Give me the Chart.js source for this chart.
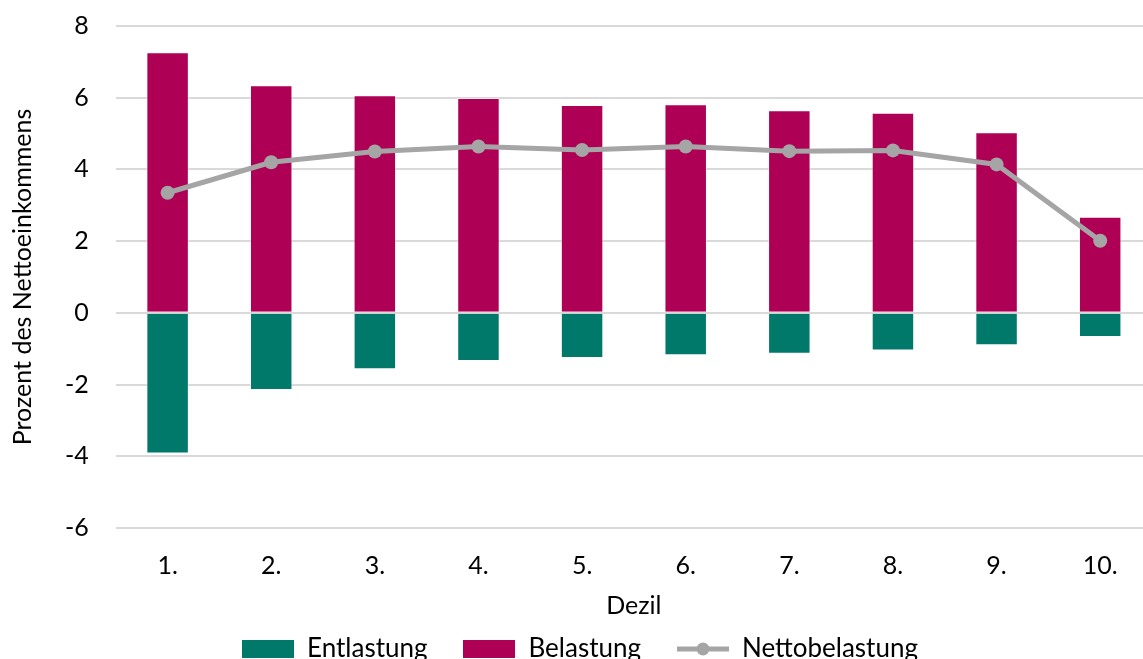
<!DOCTYPE html>
<html>
<head>
<meta charset="utf-8">
<script src="https://cdn.jsdelivr.net/npm/chart.js@4/dist/chart.umd.min.js"></script>
<style>
    html, body { margin: 0; padding: 0; background: #fff; overflow: hidden; }
    #wrap { position: absolute; left: 0; top: -16px; width: 1162px; height: 688px; }
</style>
</head>
<body>
<div id="wrap"><canvas id="chart"></canvas></div>
<script>
(function () {

    "use strict";

    // Dezile (x-Achse)
    var dezile = ['1.', '2.', '3.', '4.', '5.', '6.', '7.', '8.', '9.', '10.'];

    // Werte in Prozent des Nettoeinkommens
    var entlastung = [-3.92, -2.15, -1.57, -1.34, -1.26, -1.18, -1.14, -1.05, -0.90, -0.67];
    var belastung = [7.27, 6.35, 6.07, 5.99, 5.80, 5.82, 5.65, 5.58, 5.04, 2.68];
    var nettobelastung = [3.35, 4.20, 4.50, 4.64, 4.54, 4.64, 4.51, 4.53, 4.14, 2.01];

    var GRUEN = '#00786a';
    var ROT = '#ae0055';
    var GRAU = '#a5a5a5';
    var FONT = 'Lato';

    /**
     * Kleines Bild fuer die Legende (Rechteck oder Linie mit Punkt)
     */
    function legendIcon(color, isLine) {
        var c = document.createElement('canvas');
        c.width = 52;
        c.height = 18;
        var ctx = c.getContext('2d');
        if (isLine) {
            ctx.strokeStyle = color;
            ctx.lineWidth = 5;
            ctx.beginPath();
            ctx.moveTo(0, 9);
            ctx.lineTo(52, 9);
            ctx.stroke();
            ctx.fillStyle = color;
            ctx.beginPath();
            ctx.arc(26, 9, 6.5, 0, Math.PI * 2);
            ctx.fill();
        } else {
            ctx.fillStyle = color;
            ctx.fillRect(0, 0, 52, 18);
        }
        return c;
    }

    var icons = [legendIcon(GRUEN, false), legendIcon(ROT, false), legendIcon(GRAU, true)];

    new Chart(document.getElementById('chart'), {
        type: 'bar',
        data: {
            labels: dezile,
            datasets: [{
                label: 'Entlastung',
                data: entlastung,
                backgroundColor: GRUEN,
                borderColor: 'rgba(255,255,255,0.45)',
                borderWidth: 1,
                borderSkipped: 'start',
                order: 2
            }, {
                label: 'Belastung',
                data: belastung,
                backgroundColor: ROT,
                borderColor: 'rgba(255,255,255,0.45)',
                borderWidth: 1,
                borderSkipped: 'start',
                order: 2
            }, {
                type: 'line',
                label: 'Nettobelastung',
                data: nettobelastung,
                borderColor: GRAU,
                backgroundColor: GRAU,
                borderWidth: 5,
                pointRadius: 7,
                pointHoverRadius: 7,
                pointBackgroundColor: GRAU,
                pointBorderWidth: 0,
                tension: 0,
                order: 1
            }]
        },
        options: {
            responsive: true,
            maintainAspectRatio: false,
            animation: false,
            layout: { padding: { left: 8, right: 10, top: 0, bottom: 0 } },
            datasets: {
                bar: { categoryPercentage: 1, barPercentage: 0.41 }
            },
            scales: {
                x: {
                    stacked: true,
                    grid: { display: false },
                    border: { display: false },
                    ticks: { color: '#000', font: { family: FONT, size: 25 }, padding: 15 },
                    title: { display: true, text: 'Dezil', color: '#000', font: { family: FONT, size: 25 }, padding: { top: -5, bottom: -21 } }
                },
                y: {
                    stacked: true,
                    min: -6,
                    max: 8,
                    ticks: { stepSize: 2, color: '#000', font: { family: FONT, size: 25 }, padding: 27 },
                    grid: { color: '#d9d9d9', lineWidth: 2, drawTicks: false },
                    border: { display: false },
                    title: { display: true, text: 'Prozent des Nettoeinkommens', color: '#000', font: { family: FONT, size: 25 }, padding: { top: 0, bottom: 0 } }
                }
            },
            plugins: {
                tooltip: { enabled: false },
                legend: {
                    position: 'bottom',
                    labels: {
                        usePointStyle: true,
                        pointStyleWidth: 52,
                        boxHeight: 18,
                        padding: 36,
                        color: '#000',
                        font: { family: FONT, size: 26 },
                        generateLabels: function (chart) {
                            return chart.data.datasets.map(function (ds, i) {
                                return {
                                    text: ds.label,
                                    pointStyle: icons[i],
                                    fontColor: '#000',
                                    datasetIndex: i,
                                    hidden: false,
                                    lineWidth: 0
                                };
                            });
                        }
                    }
                }
            }
        }
    });

})();
</script>
</body>
</html>
